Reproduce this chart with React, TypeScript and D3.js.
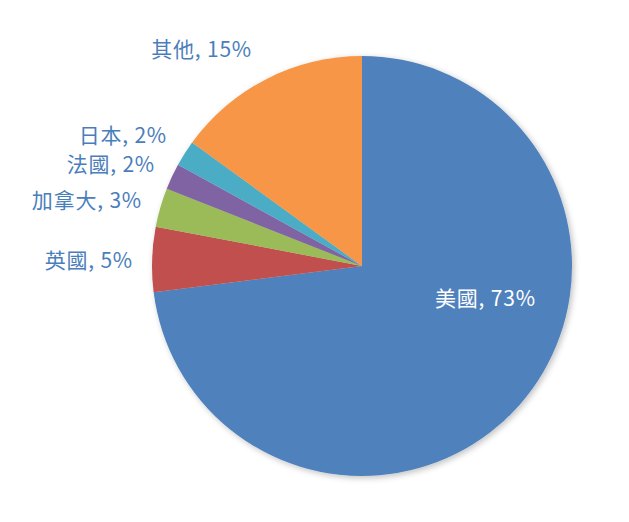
import React from "react";
import * as d3 from "d3";

const categories = ["美國", "英國", "加拿大", "法國", "日本", "其他"];
const values = [73, 5, 3, 2, 2, 15];
const colors = ["#4F81BD", "#C0504D", "#9BBB59", "#8064A2", "#4BACC6", "#F79646"];

// label placement (text anchor points, layout only)
const labelLayout: Record<string, { x: number; y: number; anchor: string; fill: string }> = {
  "美國": { x: 435, y: 306, anchor: "start", fill: "#FFFFFF" },
  "英國": { x: 133, y: 268, anchor: "end", fill: "#4A7EBB" },
  "加拿大": { x: 142, y: 208, anchor: "end", fill: "#4A7EBB" },
  "法國": { x: 155, y: 172, anchor: "end", fill: "#4A7EBB" },
  "日本": { x: 167, y: 143, anchor: "end", fill: "#4A7EBB" },
  "其他": { x: 252, y: 57, anchor: "end", fill: "#4A7EBB" },
};

export default function App() {
  const W = 629, H = 522;
  const cx = 354, cy = 258, r = 210;
  const data = categories.map((c, i) => ({ name: c, value: values[i], color: colors[i] }));
  const pie = d3.pie<any>().value((d) => d.value).sort(null);
  const arc = d3.arc<any>().innerRadius(0).outerRadius(r);
  const arcs = pie(data);
  return (
    <svg width={W} height={H} style={{ position: "absolute", left: 0, top: 0 }}>
      <defs>
        <filter id="sh" x="-20%" y="-20%" width="140%" height="140%">
          <feGaussianBlur in="SourceAlpha" stdDeviation="3" />
          <feOffset dx="2" dy="2" result="b" />
          <feComponentTransfer><feFuncA type="linear" slope="0.25" /></feComponentTransfer>
          <feMerge><feMergeNode /><feMergeNode in="SourceGraphic" /></feMerge>
        </filter>
      </defs>
      <rect width={W} height={H} fill="#fff" />
      <g transform={`translate(${cx + 8},${cy + 8})`} filter="url(#sh)">
        {arcs.map((a, i) => (
          <path key={i} d={arc(a) as string} fill={a.data.color} stroke="none" />
        ))}
      </g>
      <g fontFamily="'Noto Sans CJK TC', 'Noto Sans', sans-serif" fontSize={21} letterSpacing={0.8}>
        {data.map((d) => {
          const L = labelLayout[d.name];
          return (
            <text key={d.name} x={L.x} y={L.y} textAnchor={L.anchor} fill={L.fill}>
              {`${d.name}, ${d.value}%`}
            </text>
          );
        })}
      </g>
    </svg>
  );
}
